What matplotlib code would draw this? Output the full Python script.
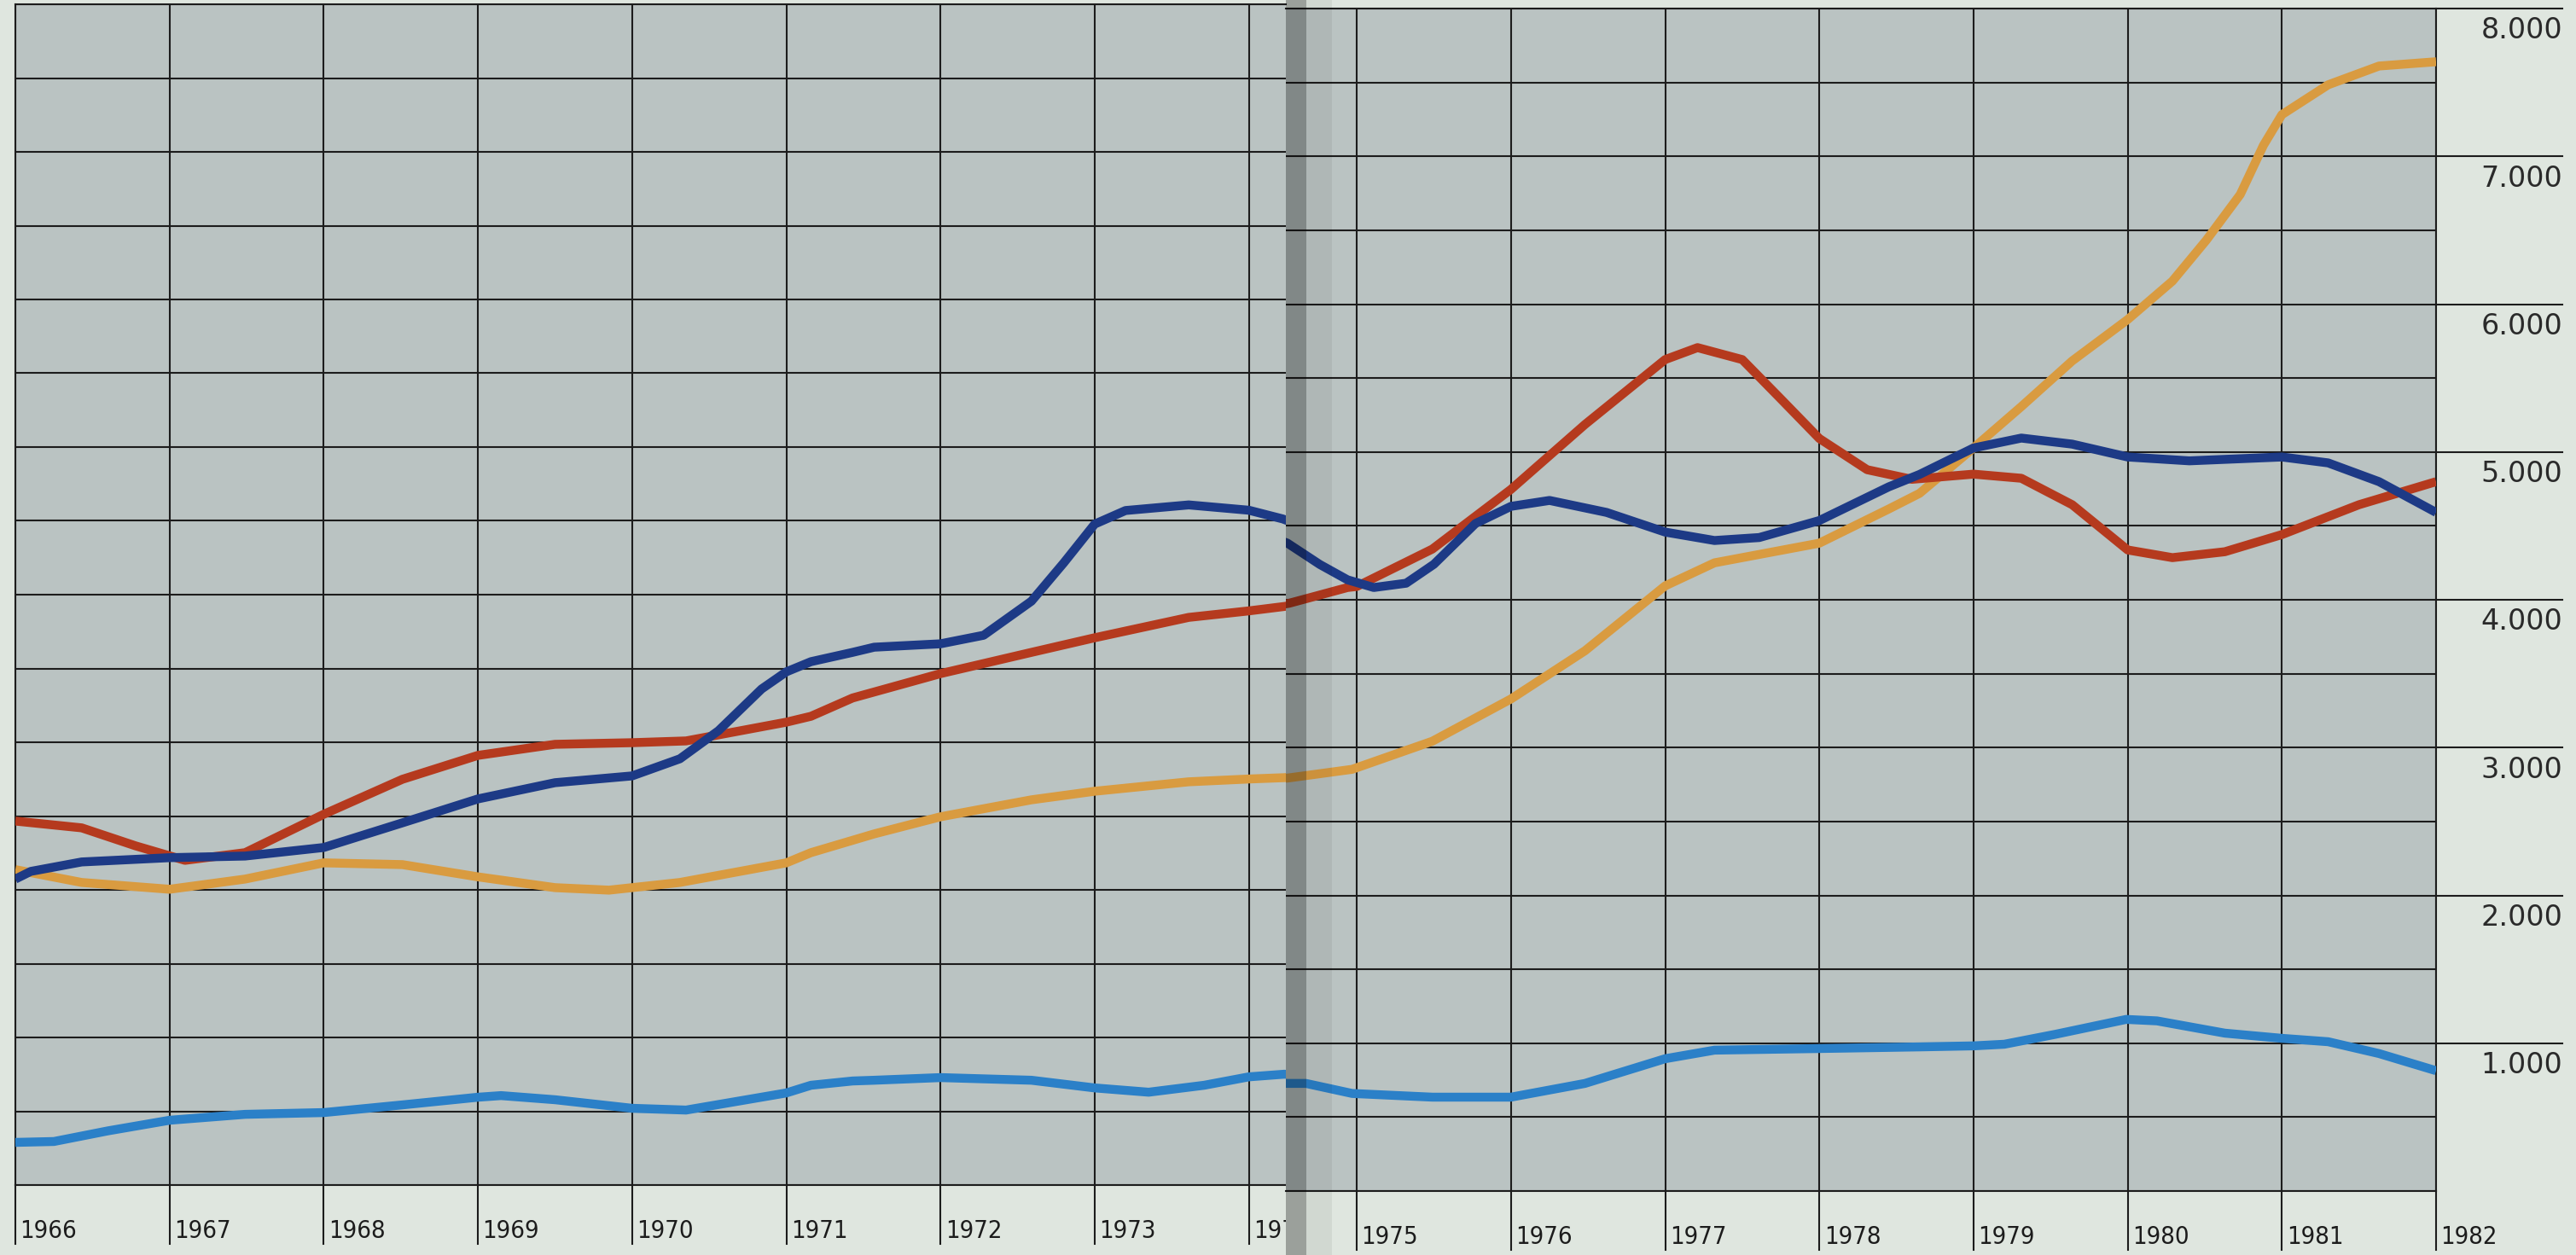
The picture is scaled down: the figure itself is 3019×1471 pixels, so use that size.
import matplotlib
matplotlib.use("Agg")

import matplotlib.pyplot as plt
from matplotlib.patches import Rectangle
from matplotlib.transforms import Bbox, TransformedBbox

light_years = [1966.0, 1966.25, 1966.6, 1967.0, 1967.49, 1968.0, 1968.51, 1969.0, 1969.15,
               1969.5, 1970.0, 1970.35, 1971.0, 1971.16, 1971.43, 1971.57, 1972.0, 1972.59,
               1973.0, 1973.35, 1973.71, 1974.0, 1974.23, 1974.55, 1974.67, 1974.97, 1975.49,
               1976.0, 1976.48, 1977.0, 1977.32, 1978.0, 1978.65, 1979.0, 1979.2, 1979.53,
               1979.99, 1980.19, 1980.63, 1981.0, 1981.3, 1981.63, 1982.0]
light_vals = [289, 295, 367, 439, 479, 491, 543, 595, 606,
              578, 520, 508, 624, 676, 705, 710, 728, 710,
              658, 629, 676, 733, 751, 728, 728, 660, 635,
              635, 728, 895, 953, 964, 975, 982, 993, 1060,
              1161, 1151, 1068, 1033, 1010, 930, 814]

navy_years = [1966.0, 1966.1, 1966.43, 1967.0, 1967.49, 1968.0, 1968.51, 1969.0, 1969.5,
              1970.0, 1970.31, 1970.56, 1970.84, 1971.0, 1971.16, 1971.43, 1971.57, 1972.0,
              1972.28, 1972.59, 1972.8, 1973.0, 1973.2, 1973.61, 1974.0, 1974.22, 1974.55,
              1974.76, 1974.94, 1975.11, 1975.32, 1975.5, 1975.77, 1976.0, 1976.25, 1976.62,
              1977.0, 1977.32, 1977.61, 1978.0, 1978.45, 1978.65, 1979.0, 1979.31, 1979.64,
              1980.0, 1980.4, 1981.0, 1981.3, 1981.63, 1982.0]
navy_vals = [2073, 2125, 2189, 2218, 2229, 2287, 2454, 2616, 2726,
             2772, 2888, 3078, 3361, 3477, 3546, 3609, 3644, 3667,
             3725, 3956, 4216, 4478, 4570, 4608, 4572, 4513, 4383,
             4239, 4135, 4083, 4112, 4240, 4516, 4632, 4672, 4591,
             4458, 4401, 4421, 4536, 4764, 4848, 5027, 5094, 5053,
             4966, 4940, 4966, 4926, 4799, 4591]

red_years = [1966.0, 1966.43, 1966.78, 1967.1, 1967.49, 1968.0, 1968.51, 1969.0, 1969.5,
             1970.0, 1970.35, 1971.0, 1971.16, 1971.43, 1972.0, 1972.59, 1973.0, 1973.61,
             1974.0, 1974.23, 1974.56, 1974.94, 1975.0, 1975.49, 1976.0, 1976.48, 1977.0,
             1977.21, 1977.5, 1977.75, 1978.0, 1978.31, 1978.6, 1979.0, 1979.31, 1979.64,
             1980.0, 1980.29, 1980.63, 1981.0, 1981.5, 1982.0]
red_vals = [2466, 2420, 2298, 2200, 2252, 2512, 2749, 2911, 2986,
            2997, 3009, 3136, 3176, 3300, 3465, 3609, 3708, 3846,
            3890, 3920, 3976, 4083, 4090, 4343, 4747, 5186, 5625,
            5706, 5625, 5359, 5091, 4880, 4815, 4850, 4822, 4643,
            4337, 4285, 4325, 4441, 4643, 4799]

orange_years = [1966.0, 1966.43, 1967.0, 1967.49, 1968.0, 1968.51, 1969.0, 1969.5, 1969.85,
                1970.31, 1971.0, 1971.16, 1971.57, 1972.0, 1972.59, 1973.0, 1973.61, 1974.0,
                1974.23, 1974.56, 1974.97, 1975.49, 1976.0, 1976.48, 1977.0, 1977.32, 1978.0,
                1978.45, 1978.65, 1979.0, 1979.31, 1979.64, 1980.0, 1980.29, 1980.51, 1980.73,
                1980.88, 1981.0, 1981.3, 1981.63, 1982.0]
orange_vals = [2137, 2050, 2004, 2073, 2183, 2171, 2088, 2015, 1998,
               2050, 2183, 2252, 2379, 2495, 2610, 2668, 2732, 2751,
               2760, 2795, 2853, 3043, 3329, 3655, 4094, 4250, 4383,
               4614, 4720, 5027, 5307, 5616, 5896, 6156, 6433, 6742,
               7074, 7282, 7484, 7611, 7640]

left_years = list(range(1966, 1975))
right_years = list(range(1975, 1983))
value_ticks = [1000, 2000, 3000, 4000, 5000, 6000, 7000, 8000]
value_labels = ["1.000", "2.000", "3.000", "4.000", "5.000", "6.000", "7.000", "8.000"]

page = "#dfe6df"
panel = "#bac3c2"
ink = "#1c1c1c"

series = [
    (light_years, light_vals, "#2b80c8"),
    (orange_years, orange_vals, "#d99b40"),
    (red_years, red_vals, "#b53a1e"),
    (navy_years, navy_vals, "#1d3a86"),
]

W, H = 3019, 1471
fig = plt.figure(figsize=(W / 100, H / 100), dpi=100, facecolor=page)

# left page: 1966 .. gutter, right page: gutter .. 1982 (slightly lower on the paper)
ax_l = fig.add_axes([18 / W, 1 - 1389 / H, (1507 - 18) / W, 1384 / H])
ax_r = fig.add_axes([1507 / W, 1 - 1396 / H, (2855 - 1507) / W, 1386 / H])
ax_l.set_xlim(1966, 1974.24)
ax_r.set_xlim(1974.54, 1982)

for ax, yrs in [(ax_l, left_years), (ax_r, right_years)]:
    ax.set_facecolor(panel)
    ax.set_ylim(0, 8000)
    ax.set_xticks(yrs)
    ax.set_yticks(range(0, 8001, 500))
    ax.grid(True, color=ink, linewidth=1.5, zorder=1)
    ax.set_axisbelow(True)
    ax.tick_params(length=0, labelbottom=False, labelleft=False)
    for s in ax.spines.values():
        s.set_color(ink)
        s.set_linewidth(1.5)
    for x, y, c in series:
        ax.plot(x, y, color=c, linewidth=7.5, solid_capstyle="butt",
                solid_joinstyle="round", zorder=3)

    # year ticks running below the panel, label to the right of each
    for yr in yrs:
        ax.plot([yr, yr], [0, -400], color=ink, linewidth=1.5, clip_on=False)
        t = ax.text(yr + 0.03, -395, str(yr), ha="left", va="bottom",
                    fontsize=21, fontstretch="condensed", color=ink,
                    family=["DejaVu Sans"])
        if ax is ax_l:
            # the 1974 label runs into the fold and is cut off there
            t.set_clip_box(TransformedBbox(Bbox([[1965.9, -1000], [1974.24, 9000]]),
                                           ax.transData))
            t.set_clip_on(True)

ax_l.spines["right"].set_visible(False)
ax_r.spines["left"].set_visible(False)

# value scale on the right margin
for v, lab in zip(value_ticks, value_labels):
    ax_r.plot([1982, 1982.82], [v, v], color=ink, linewidth=1.5, clip_on=False)
    ax_r.text(1982.82, v - 150, lab, ha="right", va="center", fontsize=24,
              color="#2a2a2a", family=["DejaVu Sans"])

# shadow of the book fold
fig.add_artist(Rectangle((1507 / W, 0), 24 / W, 1, transform=fig.transFigure,
                         facecolor="black", alpha=0.3, edgecolor="none", zorder=5))
fig.add_artist(Rectangle((1531 / W, 0), 30 / W, 1, transform=fig.transFigure,
                         facecolor="black", alpha=0.06, edgecolor="none", zorder=5))

fig.savefig("out.png", dpi=100, facecolor=page)
